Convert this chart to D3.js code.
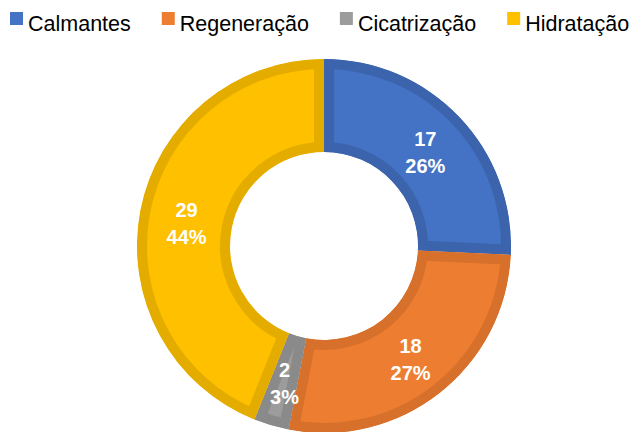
<!DOCTYPE html>
<html>
<head>
<meta charset="utf-8">
<script src="https://cdn.jsdelivr.net/npm/d3@7"></script>
<style>
	body { margin: 0; background: #fff; }
	svg { display: block; }
</style>
</head>
<body>
<div id="chart"></div>
<script>
"use strict";

// chart data
var categories = ["Calmantes", "Regeneração", "Cicatrização", "Hidratação"];
var values = [17, 18, 2, 29];
var fills = ["#4472C4", "#ED7D31", "#9C9C9C", "#FFC000"];
var borders = ["#3B64AD", "#D6702B", "#8A8A8A", "#E5AC00"];

var width = 630, height = 432;
var cx = 324, cy = 246,
	outerR = 187, innerR = 94,
	border = 10;

var svg = d3.select("#chart")
	.append("svg")
	.attr("width", width)
	.attr("height", height);

var total = d3.sum(values);
var pie = d3.pie().sort(null).value(function (d) { return d.value; });
var arc = d3.arc().innerRadius(innerR).outerRadius(outerR);

var rows = categories.map(function (c, i) {
	return { name: c, value: values[i], fill: fills[i], border: borders[i] };
});
var arcs = pie(rows);

var g = svg.append("g")
	.attr("transform", "translate(" + cx + "," + cy + ")");

// clip each slice to itself so the stroke only shows on the inside (excel look)
var defs = svg.append("defs");
defs.selectAll("clipPath")
	.data(arcs)
	.enter().append("clipPath")
	.attr("id", function (d, i) { return "clip" + i; })
	.append("path")
	.attr("d", arc);

g.selectAll("path.slice")
	.data(arcs)
	.enter().append("path")
	.attr("class", "slice")
	.attr("d", arc)
	.attr("clip-path", function (d, i) { return "url(#clip" + i + ")"; })
	.style("fill", function (d) { return d.data.fill; })
	.style("stroke", function (d) { return d.data.border; })
	.style("stroke-width", border * 2)
	.style("stroke-linejoin", "miter");

// data labels: value + percent
var labelArc = d3.arc().innerRadius(140).outerRadius(140);
var lbl = g.selectAll("text.lbl")
	.data(arcs)
	.enter().append("text")
	.attr("class", "lbl")
	.attr("transform", function (d) {
		var c = labelArc.centroid(d);
		return "translate(" + c[0] + "," + (c[1] + 4) + ")";
	})
	.attr("text-anchor", "middle")
	.style("font-family", "'Liberation Sans', Arial, sans-serif")
	.style("font-weight", "bold")
	.style("font-size", "20px")
	.style("fill", "#fff");

lbl.append("tspan")
	.attr("x", 0)
	.attr("y", -7)
	.text(function (d) { return d.data.value; });
lbl.append("tspan")
	.attr("x", 0)
	.attr("y", 20)
	.text(function (d) { return Math.round(d.data.value / total * 100) + "%"; });

// legend across the top
var legend = svg.append("g").attr("class", "legend");
var lx = 10, gap = 31;
rows.forEach(function (r) {
	var item = legend.append("g").attr("transform", "translate(" + lx + ",0)");
	item.append("rect")
		.attr("x", 0)
		.attr("y", 12)
		.attr("width", 13)
		.attr("height", 13)
		.style("fill", r.fill);
	var t = item.append("text")
		.attr("x", 18)
		.attr("y", 31)
		.style("font-family", "'Liberation Sans', Arial, sans-serif")
		.style("font-size", "21.5px")
		.style("fill", "#000")
		.text(r.name);
	lx += 18 + t.node().getComputedTextLength() + gap;
});
</script>
</body>
</html>
